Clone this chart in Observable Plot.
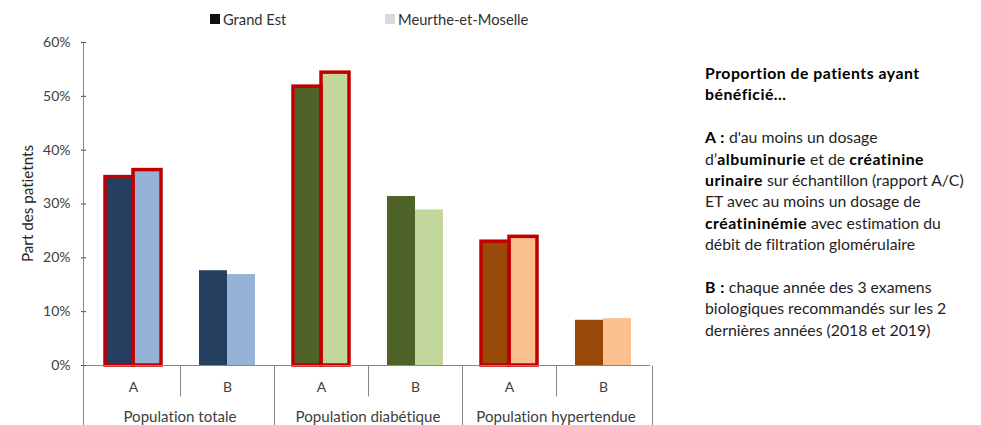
<!DOCTYPE html>
<html>
<head>
<meta charset="utf-8">
<script src="https://cdn.jsdelivr.net/npm/d3@7"></script>
<script src="https://cdn.jsdelivr.net/npm/@observablehq/plot@0.6"></script>
<style>
  body { margin: 0; background: #fff; font-family: Lato, "Open Sans", sans-serif; font-variant-ligatures: none; font-feature-settings: "liga" 0; }
  svg text { font-variant-ligatures: none; font-feature-settings: "liga" 0; }
  #wrap { position: relative; width: 981px; height: 425px; overflow: hidden; }
  #chart { position: absolute; left: 0; top: 0; }
  .legend-item { position: absolute; top: 10px; font-size: 14.7px; color: #303030; white-space: nowrap; display: flex; align-items: center; }
  .legend-item i { display: inline-block; width: 10px; height: 10px; margin-right: 3px; }
  .note { position: absolute; left: 705px; top: 62px; font-size: 15.8px; line-height: 21.4px; color: #1e1e1e; white-space: nowrap; }
  .note b { color: #000; letter-spacing: 0.5px; }
</style>
</head>
<body>
<div id="wrap">
  <div id="chart"></div>
  <div class="legend-item" style="left:210px"><i style="background:#111"></i>Grand Est</div>
  <div class="legend-item" style="left:385px"><i style="background:#d9d9d9"></i>Meurthe-et-Moselle</div>
  <div class="note">
    <b>Proportion de patients ayant</b><br>
    <b>bénéficié…</b><br>
    <br>
    <b>A :</b> d'au moins un dosage<br>
    d’<b>albuminurie</b> et de <b>créatinine</b><br>
    <b>urinaire</b> sur échantillon (rapport A/C)<br>
    ET avec au moins un dosage de<br>
    <b>créatininémie</b> avec estimation du<br>
    débit de filtration glomérulaire<br>
    <br>
    <b>B :</b> chaque année des 3 examens<br>
    biologiques recommandés sur les 2<br>
    dernières années (2018 et 2019)
  </div>
</div>
<script>
// Populations, indicators and the two territories compared
const groups = ["Population totale", "Population diabétique", "Population hypertendue"];
const indicators = ["A", "B"];
const territories = ["Grand Est", "Meurthe-et-Moselle"];

// Share of patients (%) per population × indicator, in order: totale A, B, diabétique A, B, hypertendue A, B
const grandEst = [35.0, 17.6, 51.8, 31.4, 23.0, 8.4];
const meurthe = [36.3, 16.9, 54.4, 28.9, 23.9, 8.7];

const yTicks = [0, 10, 20, 30, 40, 50, 60];
const yLabel = "Part des patietnts";

// Fill colours: dark for Grand Est, light for Meurthe-et-Moselle, one hue per population
const palette = {
  "Population totale": ["#243f60", "#95b3d7"],
  "Population diabétique": ["#4f6228", "#c3d69b"],
  "Population hypertendue": ["#984807", "#fac090"]
};

const keys = [];
const rows = [];
groups.forEach((g, gi) => {
  indicators.forEach((s, si) => {
    const key = g + "|" + s;
    keys.push(key);
    const idx = gi * indicators.length + si;
    rows.push({key, group: g, indicator: s, territory: territories[0], value: grandEst[idx], colorKey: g + "|" + territories[0]});
    rows.push({key, group: g, indicator: s, territory: territories[1], value: meurthe[idx], colorKey: g + "|" + territories[1]});
  });
});
const colorDomain = groups.flatMap(g => territories.map(t => g + "|" + t));
const colorRange = groups.flatMap(g => palette[g]);

const axisGray = "#868686";
const fontStack = "Lato, 'Open Sans', sans-serif";

const chart = Plot.plot({
  width: 981,
  height: 425,
  marginLeft: 83,
  marginRight: 329,
  marginTop: 42,
  marginBottom: 60,
  style: { fontFamily: fontStack, fontSize: "14px", color: "#404040", background: "white", overflow: "visible" },
  fx: { domain: keys, padding: 0, axis: "bottom", tickSize: 0, tickPadding: 17, tickFormat: k => k.split("|")[1], label: null },
  x: { domain: territories, paddingInner: 0, paddingOuter: 0.667, axis: null },
  y: { domain: [0, 60], ticks: yTicks, tickFormat: d => d + "%", tickSize: 5, tickPadding: 11, label: null },
  color: { domain: colorDomain, range: colorRange },
  marks: [
    Plot.barY(rows, { fx: "key", x: "territory", y: "value", fill: "colorKey" }),
    Plot.barY(rows, { filter: d => d.indicator === "A", fx: "key", x: "territory", y: "value", fill: "none", stroke: "#c00000", strokeWidth: 3.5 }),
    Plot.ruleY([0], { stroke: axisGray })
  ]
});
document.getElementById("chart").appendChild(chart);

// Axis lines, category separators and population labels, placed with the plot's own scales
const svg = d3.select(chart);
const fxs = chart.scale("fx");
const fx = d3.scaleBand().domain(fxs.domain).range(fxs.range)
  .paddingInner(fxs.paddingInner ?? 0).paddingOuter(fxs.paddingOuter ?? 0)
  .align(fxs.align ?? 0.5).round(!!fxs.round);
const ys = chart.scale("y");
const y = d3.scaleLinear().domain(ys.domain).range(ys.range);
const y0 = Math.round(y(0)) + 0.5;
const yTop = Math.round(y(60)) + 0.5;
const bottom = 425;
const crisp = v => Math.round(v) + 0.5;
const g = svg.append("g").attr("stroke", axisGray).attr("fill", "none");

// vertical y axis line, continued down the category axis
g.append("line").attr("x1", crisp(fx.range()[0])).attr("x2", crisp(fx.range()[0])).attr("y1", yTop).attr("y2", bottom);
// separators between indicators and between populations
keys.forEach((k, i) => {
  if (i === 0) return;
  const xx = crisp(fx(k));
  const isGroupStart = k.endsWith("|" + indicators[0]);
  g.append("line").attr("x1", xx).attr("x2", xx).attr("y1", y0).attr("y2", isGroupStart ? bottom : y0 + 31);
});
const xEnd = crisp(fx.range()[1]);
g.append("line").attr("x1", xEnd).attr("x2", xEnd).attr("y1", y0).attr("y2", bottom);

// population labels under each pair of indicators
groups.forEach(gr => {
  const a = fx(gr + "|" + indicators[0]);
  const b = fx(gr + "|" + indicators[indicators.length - 1]) + fx.bandwidth();
  svg.append("text").attr("x", (a + b) / 2).attr("y", y0 + 56)
    .attr("text-anchor", "middle").attr("fill", "#404040")
    .attr("font-family", fontStack).attr("font-size", 15.1)
    .text(gr);
});

// y axis title
svg.append("text")
  .attr("transform", `translate(33,${(y(0) + y(60)) / 2}) rotate(-90)`)
  .attr("text-anchor", "middle").attr("fill", "#262626")
  .attr("font-family", fontStack).attr("font-size", 15.2)
  .text(yLabel);
</script>
</body>
</html>
